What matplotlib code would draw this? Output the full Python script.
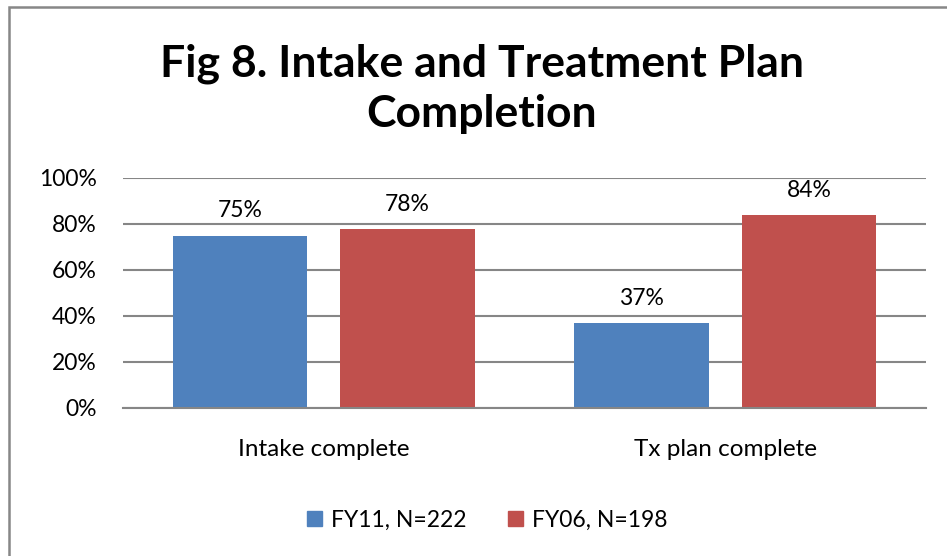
import matplotlib.pyplot as plt
import numpy as np
from matplotlib.patches import Rectangle, Patch

categories = ['Intake complete', 'Tx plan complete']
fy11 = [0.75, 0.37]
fy06 = [0.78, 0.84]
series_names = ['FY11, N=222', 'FY06, N=198']
yticks = [0, 0.2, 0.4, 0.6, 0.8, 1.0]
ytick_labels = ['0%', '20%', '40%', '60%', '80%', '100%']

blue = '#4F81BD'
red = '#C0504D'
grid_gray = '#868686'

plt.rcParams['font.family'] = ['Lato', 'DejaVu Sans']

W, H = 947, 556
fig = plt.figure(figsize=(W / 100, H / 100), dpi=100)

# outer chart border (only top and left visible)
fig.patches.append(Rectangle((8.5 / W, -0.1), 1.2, 1.1 - 6.5 / H, transform=fig.transFigure,
                             fill=False, edgecolor='#878787', linewidth=1.8))

ax = fig.add_axes([123 / W, 1 - 408 / H, (926 - 123) / W, (408 - 178) / H])
x = np.arange(len(categories))
off = 0.2086
width = 0.334
ax.bar(x - off, fy11, width, color=blue, zorder=3)
ax.bar(x + off, fy06, width, color=red, zorder=3)

for xs, vals in [(x - off, fy11), (x + off, fy06)]:
  for xi, v in zip(xs, vals):
    ax.annotate(f'{int(round(v * 100))}%', (xi, v), xytext=(0, 13), textcoords='offset points',
                ha='center', va='baseline', fontsize=16.5)

ax.set_xlim(-0.5, 1.5)
ax.set_ylim(0, 1.0)
ax.set_yticks(yticks)
ax.set_yticklabels(ytick_labels, fontsize=16.5)
ax.set_xticks(x)
ax.set_xticklabels(categories, fontsize=17.5)
ax.tick_params(axis='y', length=0, pad=19)
ax.tick_params(axis='x', length=0, pad=22)
ax.yaxis.grid(True, color=grid_gray, linewidth=1.5, zorder=0)
for s in ['left', 'right', 'top']:
  ax.spines[s].set_visible(False)
ax.spines['bottom'].set_color(grid_gray)
ax.spines['bottom'].set_linewidth(1.5)
ax.spines['bottom'].set_zorder(4)

fig.text(482 / W, 1 - 89 / H, 'Fig 8. Intake and Treatment Plan\nCompletion', ha='center', va='center',
         fontsize=32, fontweight='bold', linespacing=1.3)

handles = [Patch(color=blue), Patch(color=red)]
fig.legend(handles, series_names, loc='center', bbox_to_anchor=(487 / W, 1 - 520 / H), ncol=2,
           frameon=False, fontsize=16.5, handlelength=0.65, handleheight=0.65, handletextpad=0.4,
           columnspacing=1.8)

fig.savefig('out.png', dpi=100)
